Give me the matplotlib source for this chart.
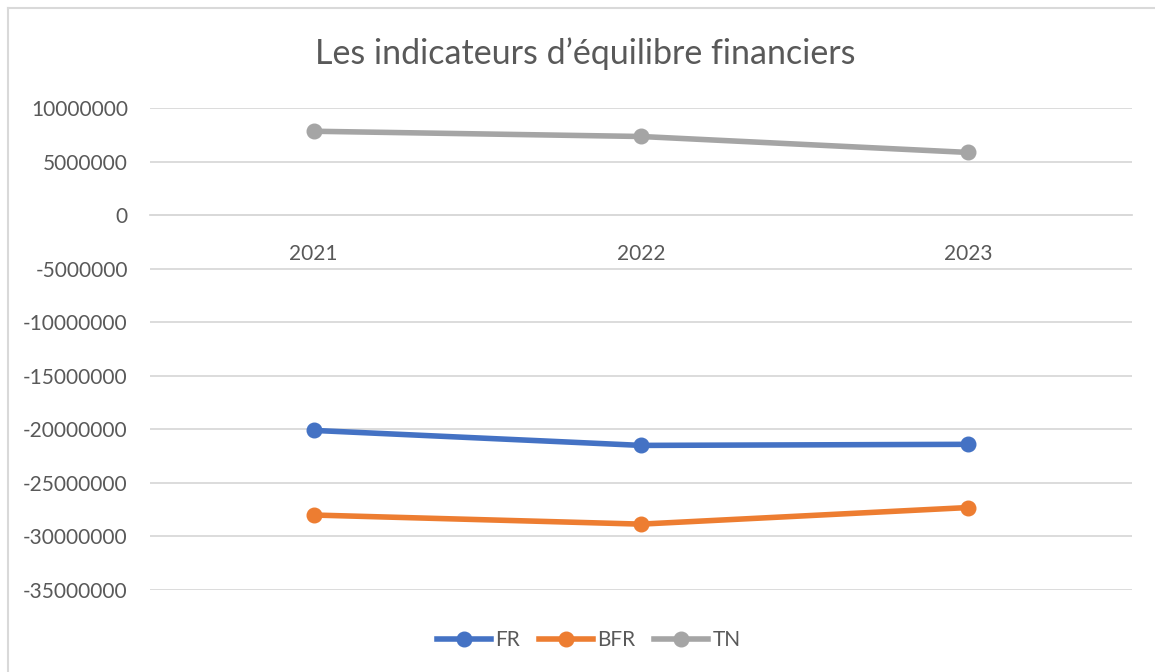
import numpy as np
import matplotlib.pyplot as plt
from matplotlib.lines import Line2D

plt.rcParams['font.family'] = ['Lato', 'DejaVu Sans']

# données
annees = ['2021', '2022', '2023']
fr = [-20100000, -21500000, -21400000]
bfr = [-28000000, -28850000, -27300000]
tn = [7830000, 7340000, 5850000]

series = [('FR', fr, '#4472C4'), ('BFR', bfr, '#ED7D31'), ('TN', tn, '#A5A5A5')]
texte = '#595959'
grille = '#D9D9D9'

W, H = 1155, 672
fig = plt.figure(figsize=(W / 100, H / 100), dpi=100)
ax = fig.add_axes([150 / W, 1 - 590 / H, (1132 - 150) / W, (590 - 108) / H])

x = np.arange(len(annees))
for nom, vals, coul in series:
    ax.plot(x, vals, color=coul, lw=4.0, marker='o', ms=10.5,
            solid_capstyle='round', label=nom)

ax.set_xlim(-0.5, len(annees) - 0.5)
ax.set_ylim(-35000000, 10000000)
ax.set_yticks(np.arange(-35000000, 10000001, 5000000))
ax.set_yticklabels([str(v) for v in range(-35000000, 10000001, 5000000)])
ax.yaxis.grid(True, color=grille, lw=1.3)
ax.set_axisbelow(True)

ax.set_xticks(x)
ax.set_xticklabels(annees)
ax.spines['bottom'].set_position(('data', 0))
ax.spines['bottom'].set_color(grille)
ax.spines['bottom'].set_linewidth(1.3)
for s in ['top', 'right', 'left']:
    ax.spines[s].set_visible(False)
ax.tick_params(axis='x', length=0, pad=21, labelsize=15, labelcolor=texte)
ax.tick_params(axis='y', length=0, pad=16, labelsize=15, labelcolor=texte)

fig.text(585 / W, 1 - 54 / H, 'Les indicateurs d\u2019\u00e9quilibre financiers',
         ha='center', va='center', fontsize=24.5, color=texte)

leg_handles = [Line2D([0], [0], color=c, lw=4.0, marker='o', ms=10.5) for _, _, c in series]
fig.legend(leg_handles, [n for n, _, _ in series], loc='center',
           bbox_to_anchor=(589 / W, 1 - 640 / H), ncol=3, frameon=False,
           fontsize=15, labelcolor=texte, handlelength=2.6, handletextpad=0.2,
           columnspacing=0.9)

# cadre du graphique (bords haut et gauche)
fig.add_artist(Line2D([8 / W, 1], [1 - 8 / H, 1 - 8 / H], color=grille, lw=1.5))
fig.add_artist(Line2D([8 / W, 8 / W], [1 - 8 / H, 0], color=grille, lw=1.5))

fig.savefig('out.png', dpi=100)
